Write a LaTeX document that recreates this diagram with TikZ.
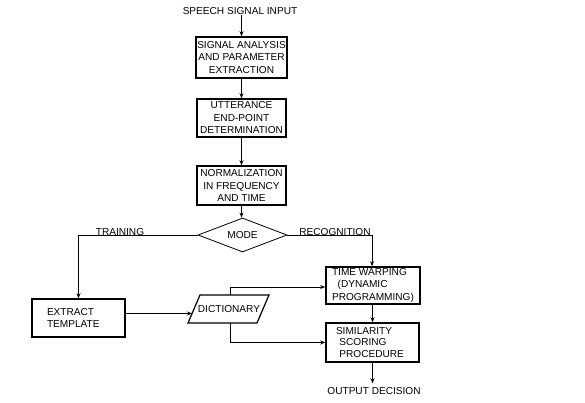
\documentclass[tikz,border=0pt]{standalone}
\usepackage{fontspec}
\setmainfont{Liberation Sans}
\usetikzlibrary{shapes.geometric,arrows.meta}
\tikzset{
  txt/.style={inner sep=0pt, font=\fontsize{10.1}{12.5}\selectfont},
  box/.style={draw, line width=1.6pt, inner sep=0pt, align=center, font=\fontsize{10.1}{12.5}\selectfont},
  arr/.style={line width=0.8pt, -{Stealth[length=5pt,width=4pt]}},
  ln/.style={line width=0.8pt}
}
\begin{document}
\begin{tikzpicture}[x=1pt,y=-1pt]
\useasboundingbox (0,0) rectangle (585,403);
\node[txt] (in) at (240,11) {SPEECH SIGNAL INPUT};
\node[box, minimum width=91pt, minimum height=41pt] (sa) at (241.5,57.5) {SIGNAL ANALYSIS\\AND PARAMETER\\EXTRACTION};
\node[box, minimum width=89pt, minimum height=38pt] (ep) at (241.5,118) {UTTERANCE\\END-POINT\\DETERMINATION};
\node[box, minimum width=89pt, minimum height=39pt] (nf) at (241.5,185.5) {NORMALIZATION\\IN FREQUENCY\\AND TIME};
\node[draw, diamond, line width=0.8pt, shape aspect=2.6, inner sep=0pt, minimum width=89pt, minimum height=34pt, font=\fontsize{10.1}{12.5}\selectfont] (mode) at (242.5,235) {MODE};
\node[box, align=left, text width=63pt, inner xsep=15pt, minimum height=38pt] (ext) at (78.5,318) {EXTRACT\\TEMPLATE};
\node[txt] (dict) at (229,309) {DICTIONARY};
\node[box, align=left, minimum width=94pt, minimum height=37pt] (tw) at (373,285.5) {TIME WARPING\\\ \ (DYNAMIC\\PROGRAMMING)};
\node[box, align=left, text width=73pt, inner xsep=10pt, minimum height=39pt, font=\fontsize{10.1}{11.3}\selectfont] (ssp) at (372.5,342.5) {SIMILARITY\\\ SCORING\\\ PROCEDURE};
\node[txt] (out) at (374,391) {OUTPUT DECISION};
\node[txt] (ltrain) at (120,232.5) {TRAINING};
\node[txt] (lrec) at (335,232.5) {RECOGNITION};
% dictionary parallelogram
\coordinate (dbl) at (188,323);
\coordinate (dtl) at (200,295);
\coordinate (dtr) at (269,295);
\coordinate (dbr) at (257,323);
\draw[line width=1.2pt] (dbl) -- (dtl) -- (dtr) -- (dbr) -- cycle;
\coordinate (dtop) at (230,295);
\coordinate (dbot) at (230,323);
\coordinate (dleft) at (192,313.5);
% connectors
\coordinate (inb) at ([xshift=1.5pt]in.south);
\draw[arr] (inb) -- (inb |- sa.north);
\draw[arr] (sa) -- (ep);
\draw[arr] (ep) -- (nf);
\draw[arr] (nf.south) -- (nf.south |- mode.north);
\draw[arr] (mode.west) -| (ext.north);
\draw[arr] (mode.east) -| ([xshift=-1pt]tw.north);
\draw[arr] ([yshift=4.5pt]ext.east) -- (dleft);
\draw[arr] (dtop) |- ([yshift=-1.5pt]tw.west);
\draw[arr] (dbot) |- (ssp.west);
\draw[arr] ([xshift=-0.5pt]tw.south) -- ([xshift=-0.5pt]tw.south |- ssp.north);
\draw[arr] (ssp.south) -- ([yshift=4pt]ssp.south |- out.north);
\end{tikzpicture}
\end{document}
